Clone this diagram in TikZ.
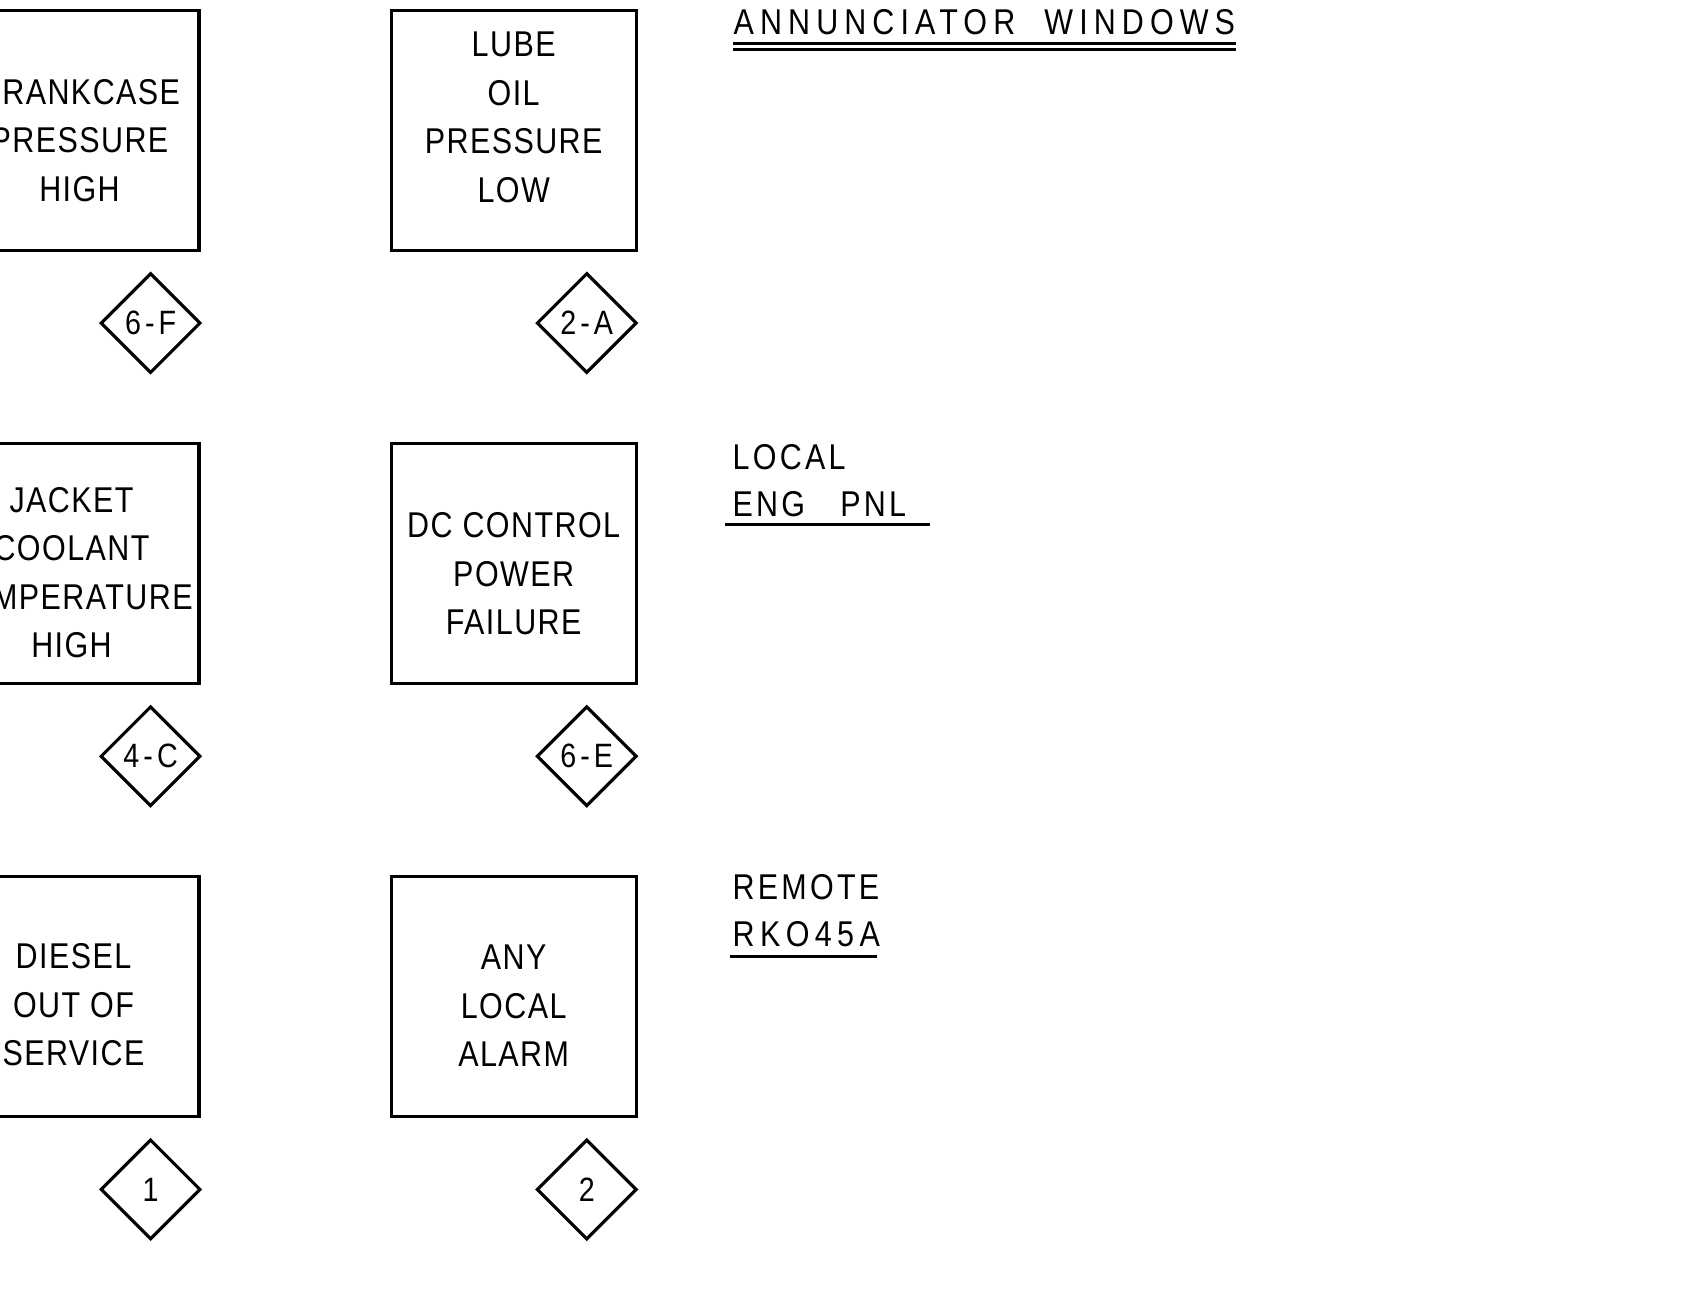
\documentclass[tikz,border=0pt]{standalone}
\usepackage{fontspec}
\newfontfamily\letterfont{Liberation Sans}[FakeStretch=0.85,LetterSpace=4]
\newfontfamily\sidefont{Liberation Sans}[FakeStretch=0.85,LetterSpace=9]
\newfontfamily\headfont{Liberation Sans}[FakeStretch=0.85,LetterSpace=17]
\newfontfamily\codefont{Liberation Sans}[FakeStretch=0.85,LetterSpace=12]
\usetikzlibrary{positioning, shapes.geometric}

\begin{document}
\begin{tikzpicture}[
    node distance=1.9cm and 1.89cm,
    every node/.style={align=center},
    window/.style={draw, line width=0.9pt, minimum width=2.45cm, minimum height=2.4cm,
                   inner sep=0pt},
    wtext/.style={inner sep=0pt, font=\letterfont\fontsize{10.2}{13.8}\selectfont},
    tag/.style={draw, diamond, aspect=1, line width=0.9pt, minimum width=1.0cm,
                minimum height=1.0cm, inner sep=0pt, font=\codefont\fontsize{9.6}{11}\selectfont},
    caption/.style={inner sep=0pt, align=left, font=\sidefont\fontsize{10.2}{13.2}\selectfont}
]
\useasboundingbox (0,0) rectangle (16.9,-13.08);

% windows
\node[window] (w1) at (0.765,-1.305) {};
\node[window, right=of w1] (w2) {};
\node[window, below=of w1] (w3) {};
\node[window, right=of w3] (w4) {};
\node[window, below=of w3] (w5) {};
\node[window, right=of w5] (w6) {};

% window texts
\node[wtext] (l1) at ([xshift=0.03cm, yshift=-0.10cm]w1) {CRANKCASE\\PRESSURE\\HIGH};
\node[wtext] (l2) at ([yshift=0.13cm]w2) {LUBE\\OIL\\PRESSURE\\LOW};
\node[wtext] (l3) at ([xshift=-0.05cm, yshift=-0.09cm]w3) {JACKET\\COOLANT\\TEMPERATURE\\HIGH};
\node[wtext] (l4) at ([yshift=-0.10cm]w4) {DC CONTROL\\POWER\\FAILURE};
\node[wtext] (l5) at ([xshift=-0.03cm, yshift=-0.08cm]w5) {DIESEL\\OUT OF\\SERVICE};
\node[wtext] (l6) at ([yshift=-0.09cm]w6) {ANY\\LOCAL\\ALARM};

% references
\node[tag] (t1) at ([xshift=-0.5cm, yshift=-0.71cm]w1.south east) {6-F};
\node[tag] (t2) at ([xshift=-0.51cm, yshift=-0.71cm]w2.south east) {2-A};
\node[tag] (t3) at ([xshift=-0.5cm, yshift=-0.71cm]w3.south east) {4-C};
\node[tag] (t4) at ([xshift=-0.51cm, yshift=-0.71cm]w4.south east) {6-E};
\node[tag] (t5) at ([xshift=-0.5cm, yshift=-0.71cm]w5.south east) {1};
\node[tag] (t6) at ([xshift=-0.51cm, yshift=-0.71cm]w6.south east) {2};

% captions
\node[caption, anchor=north west, font=\headfont\fontsize{10.2}{13.2}\selectfont] (head) at (7.33,-0.09) {ANNUNCIATOR\ \ WINDOWS};
\draw[line width=0.9pt] ([yshift=-0.08cm]head.south west) -- ([yshift=-0.08cm]head.south east);
\draw[line width=0.9pt] ([yshift=-0.14cm]head.south west) -- ([yshift=-0.14cm]head.south east);

\node[caption, anchor=north west] (local) at (7.32,-4.44) {LOCAL\\ENG\ \ \ PNL};
\draw[line width=0.9pt] ([xshift=-0.07cm, yshift=-0.07cm]local.south west) -- ++(2.05,0);

\node[caption, anchor=north west] (remote) at (7.32,-8.74) {REMOTE\\{\addfontfeature{LetterSpace=15}RKO45A}};
\draw[line width=0.9pt] ([xshift=-0.02cm, yshift=-0.09cm]remote.south west) -- ++(1.47,0);
\end{tikzpicture}
\end{document}
